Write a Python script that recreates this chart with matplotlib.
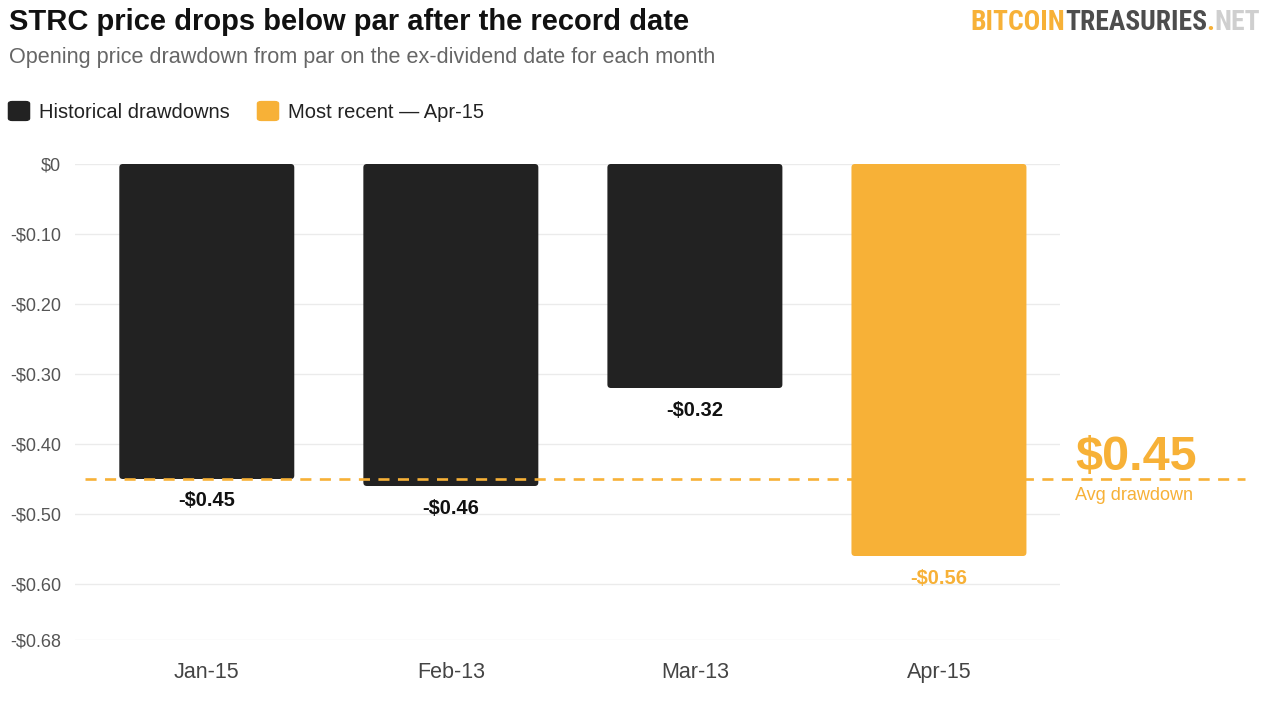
import matplotlib
matplotlib.use("Agg")
import matplotlib.pyplot as plt
from matplotlib.patches import FancyBboxPatch
import matplotlib.transforms as mtrans
from matplotlib import font_manager as fm

categories = ["Jan-15", "Feb-13", "Mar-13", "Apr-15"]
values = [-0.45, -0.46, -0.32, -0.56]
avg_value = -0.45
ytick_vals = [0, -0.10, -0.20, -0.30, -0.40, -0.50, -0.60, -0.68]
ytick_labels = ["$0", "-$0.10", "-$0.20", "-$0.30", "-$0.40", "-$0.50", "-$0.60", "-$0.68"]

DARK = "#222222"
ORANGE = "#f7b137"

plt.rcParams['font.family'] = ['Liberation Sans', 'DejaVu Sans']

W, H = 1280, 712
fig = plt.figure(figsize=(W / 100, H / 100), dpi=100)
fig.patch.set_facecolor("white")

def fx(px):
    return px / W

def fy(py):
    return 1 - py / H

ax_left, ax_right, ax_top, ax_bot = 75, 1060, 164, 640
ax = fig.add_axes([fx(ax_left), fy(ax_bot), fx(ax_right) - fx(ax_left), fy(ax_top) - fy(ax_bot)])
xlim = (-0.54, 3.496)
ylim = (-0.68, 0)
ax.set_xlim(*xlim)
ax.set_ylim(*ylim)
for s in ax.spines.values():
    s.set_visible(False)
ax.set_yticks(ytick_vals)
ax.set_yticklabels([t.replace("$", r"\$") for t in ytick_labels])
ax.tick_params(axis="y", length=0, pad=10, labelsize=13, labelcolor="#555555")
ax.set_xticks(range(len(categories)))
ax.set_xticklabels(categories)
ax.tick_params(axis="x", length=0, pad=16, labelsize=15.5, labelcolor="#444444")
ax.grid(axis="y", color="#ebebeb", linewidth=1)
ax.set_axisbelow(True)

colors = [DARK] * (len(values) - 1) + [ORANGE]
bars = ax.bar(range(len(values)), values, width=0.717, color=colors, zorder=2, clip_on=False)

# rounded corners: replace each bar with a rounded patch of the same geometry
px_per_x = (ax_right - ax_left) / (xlim[1] - xlim[0])
px_per_y = (ax_bot - ax_top) / (ylim[1] - ylim[0])
radius_px = 3.5
for b in bars:
    x, y0, w, h = b.get_x(), b.get_y(), b.get_width(), b.get_height()
    y_low = min(y0, y0 + h)
    hh = abs(h)
    rp = FancyBboxPatch((x, y_low), w, hh,
                        boxstyle=f"round,pad=0,rounding_size={radius_px / px_per_x}",
                        mutation_aspect=px_per_x / px_per_y,
                        facecolor=b.get_facecolor(), edgecolor="none", zorder=2, clip_on=False)
    ax.add_patch(rp)
    b.set_visible(False)

for i, (b, v) in enumerate(zip(bars, values)):
    col = ORANGE if i == len(values) - 1 else "#111111"
    ax.annotate(f"-${abs(v):.2f}".replace("$", r"\$"), (b.get_x() + b.get_width() / 2, v),
                xytext=(0, -22), textcoords="offset pixels", ha="center", va="center",
                fontsize=14.5, fontweight="bold", color=col)

# average line
tr = mtrans.blended_transform_factory(ax.transAxes, ax.transData)
x0 = (85 - ax_left) / (ax_right - ax_left)
x1 = (1245 - ax_left) / (ax_right - ax_left)
ax.plot([x0, x1], [avg_value, avg_value], transform=tr, color=ORANGE, lw=1.9,
        dashes=(4.2, 3.2), clip_on=False, zorder=3)
ax.annotate(f"${abs(avg_value):.2f}".replace("$", r"\$"), (1.0, avg_value), xycoords=tr,
            xytext=(15, 22), textcoords="offset pixels", ha="left", va="center",
            fontsize=35, fontweight="bold", color=ORANGE)
ax.annotate("Avg drawdown", (1.0, avg_value), xycoords=tr,
            xytext=(15, -17), textcoords="offset pixels", ha="left", va="center",
            fontsize=13, color=ORANGE)

# titles
fig.text(fx(9), fy(22), "STRC price drops below par after the record date", fontsize=21,
         fontweight="bold", color="#111111", va="center", ha="left")
fig.text(fx(9), fy(58), "Opening price drawdown from par on the ex-dividend date for each month",
         fontsize=15.6, color="#666666", va="center", ha="left")

# legend
leg_items = [("Historical drawdowns", DARK, 9), ("Most recent \u2014 Apr-15", ORANGE, 258)]
for label, col, xpx in leg_items:
    p = FancyBboxPatch((fx(xpx + 2), fy(119)), fx(16), fy(103) - fy(119),
                       boxstyle="round,pad=0.002,rounding_size=0.003",
                       transform=fig.transFigure, facecolor=col, edgecolor=col)
    fig.patches.append(p)
    fig.text(fx(xpx + 30), fy(112), label, fontsize=14.5, color="#222222", va="center", ha="left")

# logo
fig.canvas.draw()
renderer = fig.canvas.get_renderer()
avail = {f.name for f in fm.fontManager.ttflist}
logo_font = None
for cand in ["Liberation Sans Narrow", "DejaVu Sans Condensed", "Roboto Condensed", "Open Sans Condensed"]:
    if cand in avail:
        logo_font = cand
        break
base_fs = 25
logo_kw = dict(fontsize=base_fs, fontweight="bold", va="center", ha="left")
if logo_font:
    logo_kw["family"] = logo_font
else:
    logo_kw["fontstretch"] = "condensed"
parts = [("BITCOIN", ORANGE), ("TREASURIES", "#4d4d4d"), (".", ORANGE), ("NET", "#cfcfcf")]
texts = []
total = 0
for s, c in parts:
    t = fig.text(0, fy(23), s, color=c, **logo_kw)
    texts.append(t)
    total += t.get_window_extent(renderer).width
scale = (1260 - 970) / total
xstart = 970
for t in texts:
    t.set_fontsize(base_fs * scale)
    w = t.get_window_extent(renderer).width
    t.set_x(fx(xstart))
    xstart += w

fig.savefig("out.png", dpi=100, facecolor="white")
